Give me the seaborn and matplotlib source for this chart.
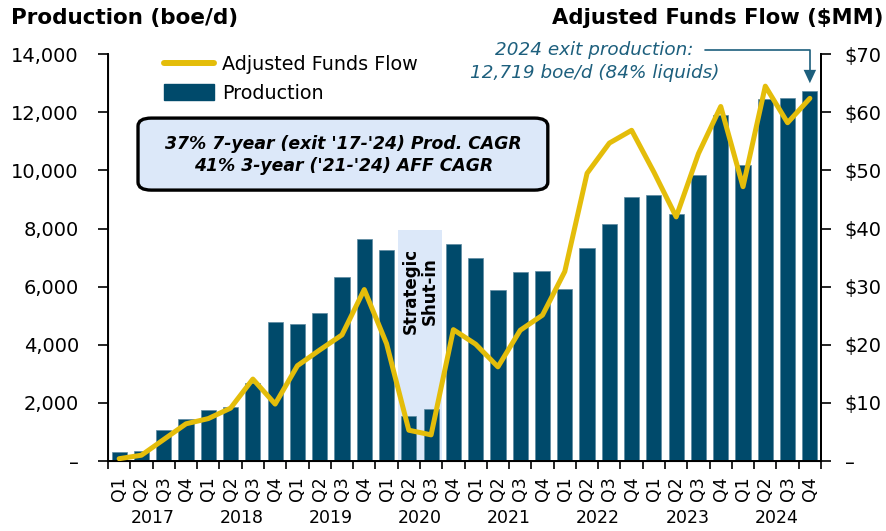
import numpy as np
import pandas as pd
import matplotlib
matplotlib.use("Agg")
import matplotlib.pyplot as plt
import seaborn as sns
from matplotlib.lines import Line2D
from matplotlib.patches import Patch, FancyBboxPatch

# ---- data ----
quarters = ["Q1", "Q2", "Q3", "Q4"] * 8
years = ["2017", "2018", "2019", "2020", "2021", "2022", "2023", "2024"]
production = [300, 355, 1065, 1435, 1745, 1855, 2670, 4770,
              4715, 5100, 6320, 7650, 7250, 1550, 1800, 7465,
              6970, 5870, 6490, 6535, 5905, 7340, 8140, 9085,
              9150, 8500, 9840, 11900, 10180, 12450, 12490, 12719]
aff = [0.4, 1.0, 3.7, 6.4, 7.3, 9.1, 14.1, 9.8,
       16.4, 19.1, 21.7, 29.5, 20.2, 5.3, 4.5, 22.6,
       20.1, 16.2, 22.5, 25.1, 32.6, 49.5, 54.7, 56.9,
       49.7, 42.0, 52.9, 61.0, 47.2, 64.5, 58.2, 62.4]

BLUE = "#004a6b"
GOLD = "#e4bd0a"
TEAL = "#1d5f7d"
SHADE = "#dce8f9"

df = pd.DataFrame({"idx": np.arange(len(production)), "quarter": quarters,
                   "production": production, "aff": aff})

sns.set_style("ticks")
plt.rcParams["font.family"] = ["DejaVu Sans"]
plt.rcParams["text.color"] = "black"
plt.rcParams["xtick.color"] = "black"
plt.rcParams["ytick.color"] = "black"
plt.rcParams["axes.edgecolor"] = "black"

fig = plt.figure(figsize=(8.87, 5.31), dpi=100)
ax = fig.add_axes([0.1218, 0.1318, 0.8038, 0.7662])

# strategic shut-in shading
ax.fill_between([12.5, 14.5], 0, 7950, color=SHADE, zorder=0, linewidth=0)

sns.barplot(data=df, x="idx", y="production", color=BLUE, saturation=1, width=0.68,
            edgecolor="#5d8aa0", linewidth=0.5, ax=ax, zorder=2)
ax.set_xlim(-0.5, len(production) - 0.5)
ax.set_ylim(0, 14000)
ax.set_yticks(np.arange(0, 14001, 2000))
ax.set_yticklabels(["–"] + [f"{v:,}" for v in range(2000, 14001, 2000)], fontsize=14)
ax.set_xlabel("")
ax.set_ylabel("")

# ticks at bar boundaries, quarter labels in between
ax.set_xticks(np.arange(-0.5, len(production), 1.0))
ax.set_xticklabels([])
ax.tick_params(axis="x", length=6, width=1.2, color="black")
ax.tick_params(axis="y", length=7, width=1.2, color="black", pad=14)
for i, q in enumerate(quarters):
    ax.text(i, -0.038, q, transform=ax.get_xaxis_transform(), rotation=90,
            ha="center", va="top", fontsize=12.5)
for k, y in enumerate(years):
    ax.text(4 * k + 1.5, -0.14, y, transform=ax.get_xaxis_transform(),
            ha="center", va="center", fontsize=12.5)

ax.spines["top"].set_visible(False)
for s in ["left", "bottom", "right"]:
    ax.spines[s].set_linewidth(1.4)

ax.text(13.5, 5850, "Strategic\nShut-in", rotation=90, ha="center", va="center",
        fontsize=12, fontweight="bold", zorder=3, linespacing=1.1)

# AFF line on twin axis
ax2 = ax.twinx()
sns.lineplot(data=df, x="idx", y="aff", color=GOLD, linewidth=3.6, ax=ax2, zorder=4)
ax2.set_ylim(0, 70)
ax2.set_yticks(np.arange(0, 71, 10))
ax2.set_yticklabels(["–"] + [f"${v}" for v in range(10, 71, 10)], fontsize=14)
ax2.tick_params(axis="y", length=7, width=1.2, pad=10)
ax2.set_xlabel("")
ax2.set_ylabel("")
ax2.spines["top"].set_visible(False)
ax2.spines["right"].set_linewidth(1.4)
ax2.set_xlim(-0.5, len(production) - 0.5)

# titles
fig.text(0.012, 0.966, "Production (boe/d)", fontsize=15.5, fontweight="bold",
         ha="left", va="center")
fig.text(0.996, 0.966, "Adjusted Funds Flow ($MM)", fontsize=15.2, fontweight="bold",
         ha="right", va="center")

# legend
handles = [Line2D([0], [0], color=GOLD, linewidth=4.3),
           Patch(facecolor=BLUE, edgecolor=BLUE)]
ax2.legend(handles, ["Adjusted Funds Flow", "Production"], loc="upper left",
           bbox_to_anchor=(0.055, 1.04), frameon=False, fontsize=13.8,
           handlelength=2.6, handleheight=0.85, labelspacing=0.5, handletextpad=0.4)

# CAGR box
box = FancyBboxPatch((0.1556, 0.642), 0.462, 0.1356, transform=fig.transFigure,
                     boxstyle="round,pad=0.0,rounding_size=0.015",
                     facecolor=SHADE, edgecolor="black", linewidth=2.4, zorder=5)
fig.patches.append(box)
fig.text(0.387, 0.708, "37% 7-year (exit '17-'24) Prod. CAGR\n41% 3-year ('21-'24) AFF CAGR",
         ha="center", va="center", fontsize=12.4, fontweight="bold", style="italic",
         linespacing=1.3, zorder=6)

# exit production annotation
fig.text(0.67, 0.884, "2024 exit production:\n12,719 boe/d (84% liquids)",
         ha="center", va="center", fontsize=13.2, style="italic", color=TEAL,
         linespacing=1.4, multialignment="center")
ax2.plot([26.3, 31, 31], [70.7, 70.7, 67.3], color=TEAL, linewidth=1.2,
         clip_on=False)
ax2.fill([30.72, 31.28, 31], [67.3, 67.3, 65.0], color=TEAL, clip_on=False,
         linewidth=0)

fig.savefig("out.png", dpi=100)
